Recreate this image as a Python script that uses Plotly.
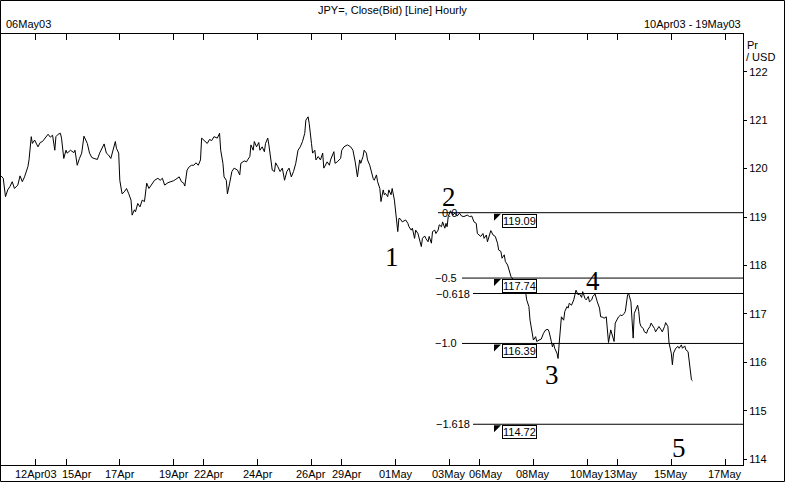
import plotly.graph_objects as go

# ---------------- data ----------------
hours = [0, 2, 4, 6, 8, 10, 12, 15, 17, 19, 21, 24, 25, 27, 28, 30, 33, 35, 37, 40, 42, 44, 46, 48, 49, 51, 53, 54, 56, 58,
         59, 62, 65, 66, 68, 70, 72, 74, 77, 79, 81, 83, 86, 88, 90, 92, 94, 96, 98, 100, 102, 103, 105, 106, 108, 110, 112,
         114, 116, 117, 119, 120, 122, 124, 126, 128, 130, 132, 135, 137, 140, 142, 144, 146, 149, 152, 154, 156, 159, 161,
         163, 164, 166, 168, 170, 172, 174, 176, 178, 179, 181, 184, 186, 188, 190, 193, 195, 196, 198, 199, 201, 202, 204,
         206, 208, 211, 213, 214, 217, 219, 220, 222, 223, 225, 226, 228, 230, 231, 233, 235, 236, 238, 239, 241, 242, 244,
         245, 247, 249, 251, 253, 255, 257, 259, 261, 263, 265, 267, 269, 271, 272, 274, 275, 277, 278, 280, 281, 283, 285,
         287, 288, 291, 293, 294, 297, 298, 300, 303, 304, 306, 309, 312, 314, 316, 318, 320, 321, 323, 324, 326, 327, 329,
         330, 332, 333, 335, 336, 338, 339, 341, 342, 343, 345, 346, 348, 349, 351, 352, 354, 355,
         356, 358, 361, 363, 364, 366, 367, 369, 370, 372, 373, 375, 376, 378, 379, 381, 382, 384, 385, 387, 388, 390, 391,
         393, 394, 396, 397, 398, 399, 401, 403, 405, 407, 409, 411, 413, 416, 418, 420, 422, 424, 425, 428, 430, 431, 433,
         434, 436, 437, 439, 441, 443, 444, 446, 447, 449, 450, 452, 453, 455, 459, 463, 466,
         468, 469, 471, 472, 474, 475, 477, 478, 480, 482, 484, 486, 488, 489, 491, 492, 493, 494, 496, 497, 498, 499, 500,
         502, 503, 505, 506, 507, 509, 511, 512, 513, 515, 516, 518, 519, 521, 522, 524, 525, 527, 528, 530, 531, 532, 534,
         535, 537, 538, 540, 541, 542, 544, 545, 547, 548, 550, 551, 553, 554, 556, 557, 559, 560, 562, 563, 564, 565, 567,
         568, 569, 570, 571, 573, 574, 576, 577, 579, 580, 582, 583, 584, 586, 587, 589, 590, 592, 593, 595, 596, 598, 599,
         600, 602, 604, 605, 607, 608, 610, 611, 613, 614, 616, 617]

close = [119.85, 119.80, 119.42, 119.56, 119.63, 119.73, 119.59, 119.66, 119.85, 119.73, 119.83, 120.04, 120.18, 120.66,
         120.52, 120.59, 120.45, 120.54, 120.56, 120.66, 120.71, 120.65, 120.69, 120.38, 120.66, 120.71, 120.73, 120.63,
         120.21, 120.38, 120.32, 120.38, 120.33, 120.38, 120.07, 120.21, 120.32, 120.67, 120.52, 120.32, 120.23, 120.21,
         120.19, 120.32, 120.42, 120.51, 120.32, 120.28, 120.21, 120.42, 120.56, 120.42, 120.32, 119.76, 119.48, 119.52,
         119.59, 119.48, 119.35, 119.04, 119.15, 119.11, 119.28, 119.21, 119.35, 119.32, 119.70, 119.59, 119.70, 119.76,
         119.80, 119.76, 119.80, 119.66, 119.71, 119.73, 119.75, 119.78, 119.83, 119.73, 119.70, 119.64, 119.97, 120.04,
         120.07, 120.07, 120.12, 120.07, 120.18, 120.63, 120.59, 120.52, 120.60, 120.58, 120.66, 120.63, 120.73, 120.38,
         120.11, 119.83, 119.76, 119.48, 119.70, 119.94, 120.01, 119.97, 119.87, 120.11, 120.16, 120.14, 120.18, 120.25,
         120.49, 120.38, 120.56, 120.45, 120.54, 120.38, 120.45, 120.35, 120.52, 120.63, 120.49, 120.14, 119.97, 119.94,
         120.12, 120.04, 119.94, 120.01, 119.76, 119.94, 120.01, 119.83, 119.94, 120.11, 120.38, 120.45, 120.56, 120.73,
         121.00, 121.07, 120.93, 120.52, 120.32, 120.38, 120.18, 120.25, 120.18, 120.32, 120.01, 120.14, 120.07, 120.18,
         120.35, 120.11, 120.14, 120.21, 120.38, 120.45, 120.49, 120.45, 120.38, 120.14, 119.83, 120.18, 120.11, 120.25,
         120.38, 120.32, 120.18, 120.07, 119.97, 119.80, 119.76, 119.87, 119.73, 119.59, 119.32, 119.56, 119.46, 119.49,
         119.42, 119.56, 119.46, 119.59, 119.35, 119.08, 118.70, 118.97,
         118.97, 118.90, 118.94, 118.87, 118.80, 118.73, 118.77, 118.56, 118.73, 118.66, 118.56, 118.39, 118.56, 118.61,
         118.56, 118.49, 118.60, 118.46, 118.70, 118.73, 118.66, 118.73, 118.84, 118.80, 118.90, 118.77, 118.87, 118.80,
         119.01, 119.13, 119.04, 119.08, 119.02, 119.08, 119.02, 119.01, 119.04, 119.01, 119.02, 118.90, 118.87, 118.66,
         118.60, 118.66, 118.56, 118.63, 118.49, 118.66, 118.72, 118.63, 118.60, 118.46, 118.32, 118.29, 118.15, 118.22,
         118.08, 118.01, 117.91, 117.77, 117.65, 117.55, 117.50,
         117.46, 117.29, 117.15, 116.87, 116.57, 116.46, 116.53, 116.43, 116.46, 116.48, 116.60, 116.67, 116.68, 116.63,
         116.43, 116.32, 116.39, 116.29, 116.19, 116.08, 116.39, 116.74, 116.94, 116.87, 117.05, 117.15, 117.12, 117.22,
         117.18, 117.29, 117.39, 117.49, 117.39, 117.42, 117.34, 117.46, 117.32, 117.29, 117.36, 117.25, 117.29, 117.36,
         117.41, 117.32, 117.25, 117.12, 116.94, 116.93, 116.91, 116.94, 116.74, 116.41, 116.67, 116.57, 116.43, 116.81,
         116.91, 116.94, 116.98, 116.96, 117.01, 117.05, 117.39, 117.42, 117.25, 116.87, 116.50, 117.01, 117.12, 117.18,
         117.05, 116.81, 116.74, 116.70, 116.63, 116.60, 116.67, 116.74, 116.81, 116.74, 116.70, 116.63, 116.70, 116.74,
         116.67, 116.63, 116.74, 116.82, 116.74, 116.40, 116.19, 115.95, 116.19, 116.29, 116.33, 116.29, 116.36, 116.29,
         116.34, 116.26, 116.22, 116.02, 115.64, 115.62]

tick_hours = [31, 58, 106, 154, 181, 229, 277, 304, 352, 400, 427, 475, 523, 550, 598, 646]
tick_labels = ["12Apr03", "15Apr", "17Apr", "19Apr", "22Apr", "24Apr", "26Apr", "29Apr",
               "01May", "03May", "06May", "08May", "10May", "13May", "15May", "17May"]
price_ticks = [114, 115, 116, 117, 118, 119, 120, 121, 122]

fib_high = 119.09
fib_low = 116.39
fib_ratios = [0.0, 0.5, 0.618, 1.0, 1.618]
fib_labels = ["0.0", "\u22120.5", "\u22120.618", "\u22121.0", "\u22121.618"]
fib_boxed = [True, True, False, True, True]

wave_labels = ["1", "2", "3", "4", "5"]
wave_hours = [349, 400, 492, 528, 605]
wave_prices = [118.18, 119.41, 115.74, 117.68, 114.23]

title_text = "JPY=, Close(Bid) [Line] Hourly"
left_text = "06May03"
right_text = "10Apr03 - 19May03"

# ---------------- style / layout helpers ----------------
SANS = "Liberation Sans, Arial, sans-serif"
SERIF = "Liberation Serif, Times New Roman, serif"
L, R, T, B = 1, 57, 34, 35
W, H = 800, 500
PW = W - L - R
PH = H - T - B
# label nudges (px) so crowded date labels do not collide, as in the original
label_shift_px = [0, 11, 0, 0, 5, 0, 0, 5, 0, 0, 6, 0, 0, 4, 0, 0]


def px(xp):
    return (xp - L) / PW


def py(yp):
    return (H - B - yp) / PH


fig = go.Figure()
fig.add_trace(go.Scatter(x=hours, y=close, mode="lines",
                         line=dict(color="black", width=1), hoverinfo="skip"))

shapes = []
annotations = []

# outer frame
shapes.append(dict(type="rect", xref="paper", yref="paper",
                   x0=px(0.5), x1=px(784.5), y0=py(481.5), y1=py(0.5),
                   line=dict(color="black", width=1), fillcolor="rgba(0,0,0,0)", layer="above"))

line_start_px = [438, 462, 473, 462, 473]
label_right_px = [459, 459, 472, 459, 472]
for r, lab, boxed, xs, xr in zip(fib_ratios, fib_labels, fib_boxed, line_start_px, label_right_px):
    lvl = fib_high - r * (fib_high - fib_low)
    shapes.append(dict(type="line", xref="paper", yref="y", x0=px(xs), x1=1.0, y0=lvl, y1=lvl,
                       line=dict(color="black", width=1), layer="above"))
    annotations.append(dict(xref="paper", yref="y", x=px(xr), y=lvl, text=lab, showarrow=False,
                            xanchor="right", yanchor="middle", font=dict(family=SANS, size=11, color="black")))
    if boxed:
        shapes.append(dict(type="path", xref="paper", yref="y", xsizemode="pixel", ysizemode="pixel",
                           xanchor=px(494), yanchor=lvl, path="M0,-1 L7,-1 L0,-8 Z",
                           fillcolor="black", line=dict(color="black", width=0), layer="above"))
        annotations.append(dict(xref="paper", yref="y", x=px(502), y=lvl, text=f"{lvl:.2f}",
                                showarrow=False, xanchor="left", yanchor="top", yshift=-1,
                                bordercolor="black", borderwidth=1, borderpad=0, bgcolor="white",
                                font=dict(family=SANS, size=11, color="black")))

for lab, hx, pv in zip(wave_labels, wave_hours, wave_prices):
    annotations.append(dict(x=hx, y=pv, xref="x", yref="y", text=lab, showarrow=False,
                            xanchor="center", yanchor="middle",
                            font=dict(family=SERIF, size=27, color="black")))

# date labels under the axis
for th, tl, sh in zip(tick_hours, tick_labels, label_shift_px):
    annotations.append(dict(x=th, y=py(466), xref="x", yref="paper", text=tl, showarrow=False,
                            xanchor="center", yanchor="top", xshift=sh,
                            font=dict(family=SANS, size=11, color="black")))

annotations.append(dict(xref="paper", yref="paper", x=px(392), y=py(10), text=title_text, showarrow=False,
                        xanchor="center", yanchor="middle", font=dict(family=SANS, size=11, color="black")))
annotations.append(dict(xref="paper", yref="paper", x=px(4), y=py(24), text=left_text, showarrow=False,
                        xanchor="left", yanchor="middle", font=dict(family=SANS, size=11, color="black")))
annotations.append(dict(xref="paper", yref="paper", x=px(743), y=py(24), text=right_text, showarrow=False,
                        xanchor="right", yanchor="middle", font=dict(family=SANS, size=11, color="black")))
annotations.append(dict(xref="paper", yref="paper", x=px(745), y=py(45), text="Pr", showarrow=False,
                        xanchor="left", yanchor="middle", font=dict(family=SANS, size=11, color="black")))
annotations.append(dict(xref="paper", yref="paper", x=px(744), y=py(57), text="/ USD", showarrow=False,
                        xanchor="left", yanchor="middle", font=dict(family=SANS, size=11, color="black")))

fig.update_layout(width=W, height=H, margin=dict(l=L, r=R, t=T, b=B, pad=0),
                  paper_bgcolor="white", plot_bgcolor="white", showlegend=False,
                  font=dict(family=SANS, size=11, color="black"),
                  shapes=shapes, annotations=annotations)
fig.update_xaxes(range=[0, 662], tickmode="array", tickvals=tick_hours, ticktext=tick_labels,
                 showticklabels=False,
                 ticks="inside", ticklen=6, tickcolor="black", tickwidth=1,
                 showline=True, linecolor="black", linewidth=1, mirror="ticks",
                 showgrid=False, zeroline=False, automargin=False)
fig.update_yaxes(side="right", range=[113.88, 122.78], tickmode="array", tickvals=price_ticks,
                 ticks="outside", ticklen=3, tickcolor="black", tickwidth=1,
                 showline=True, linecolor="black", linewidth=1, mirror=True,
                 showgrid=False, zeroline=False, automargin=False,
                 tickfont=dict(family=SANS, size=11, color="black"))

fig.write_html("out.html", config={"displayModeBar": False},
               post_script="document.body.style.margin='0px';document.body.style.overflow='hidden';")
